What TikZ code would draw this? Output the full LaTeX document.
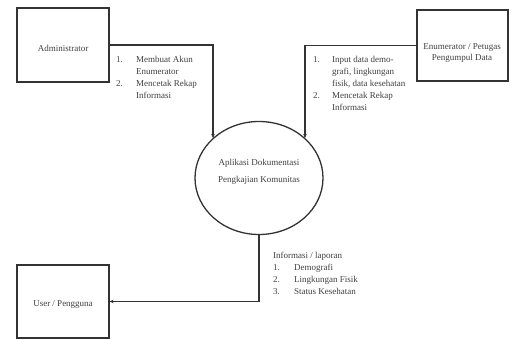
\documentclass[tikz,border=0pt]{standalone}
\usepackage{fontspec}
\setmainfont{Liberation Serif}
\usetikzlibrary{arrows.meta,shapes.geometric}
\begin{document}
\begin{tikzpicture}[x=1pt,y=-1pt,
  ent/.style={draw=black!80,line width=1.3pt,rectangle,inner sep=0pt},
  proc/.style={draw=black!80,line width=1.3pt,ellipse,inner sep=0pt},
  lbl/.style={text=black!75,font=\fontsize{9}{10.5}\selectfont,align=center,inner sep=0pt},
  lst/.style={text=black!75,font=\fontsize{9}{12}\selectfont,anchor=north west,inner sep=0pt},
  flow/.style={draw=black!80,line width=1.3pt,-{Stealth[length=4pt,width=3.5pt]}}]
\useasboundingbox (0,0) rectangle (512,340);
\fill[white] (0,0) rectangle (512,340);
% entities
\node[ent,minimum width=92pt,minimum height=74pt] (adm) at (63,45) {};
\node[lbl] (admt) at (63,48) {Administrator};
\node[ent,minimum width=91pt,minimum height=71pt] (enu) at (462.5,45.5) {};
\node[lbl] (enut) at (462,53) {Enumerator / Petugas\\Pengumpul Data};
\node[ent,minimum width=92pt,minimum height=73pt] (usr) at (63,301.5) {};
\node[lbl] (usrt) at (63,305) {User / Pengguna};
% process
\node[proc,minimum width=128pt,minimum height=113pt] (circ) at (259,178) {};
\node[lbl,font=\fontsize{9}{17}\selectfont] (circt) at (259,171.5) {Aplikasi Dokumentasi\\Pengkajian Komunitas};
% arrow ends
\coordinate (inL) at (213,138);
\coordinate (inR) at (305,138);
% flows
\draw[flow] (adm.east) -| (inL);
\draw[flow] (enu.west) -| (inR);
\draw[flow] (circ.south) |- (usr.east);
% flow labels
\node[lst] (admlist) at (116,54) {\begin{tabular}{@{}p{20pt}@{}l@{}}
1. & Membuat Akun\\
   & Enumerator\\
2. & Mencetak Rekap\\
   & Informasi
\end{tabular}};
\node[lst] (enulist) at (313,54) {\begin{tabular}{@{}p{19pt}@{}l@{}}
1. & Input data demo-\\
   & grafi, lingkungan\\
   & fisik, data kesehatan\\
2. & Mencetak Rekap\\
   & Informasi
\end{tabular}};
\node[lst] (usrlist) at (273,250) {\begin{tabular}{@{}p{21pt}@{}l@{}}
\multicolumn{2}{@{}l@{}}{Informasi / laporan}\\
1. & Demografi\\
2. & Lingkungan Fisik\\
3. & Status Kesehatan
\end{tabular}};
\end{tikzpicture}
\end{document}
